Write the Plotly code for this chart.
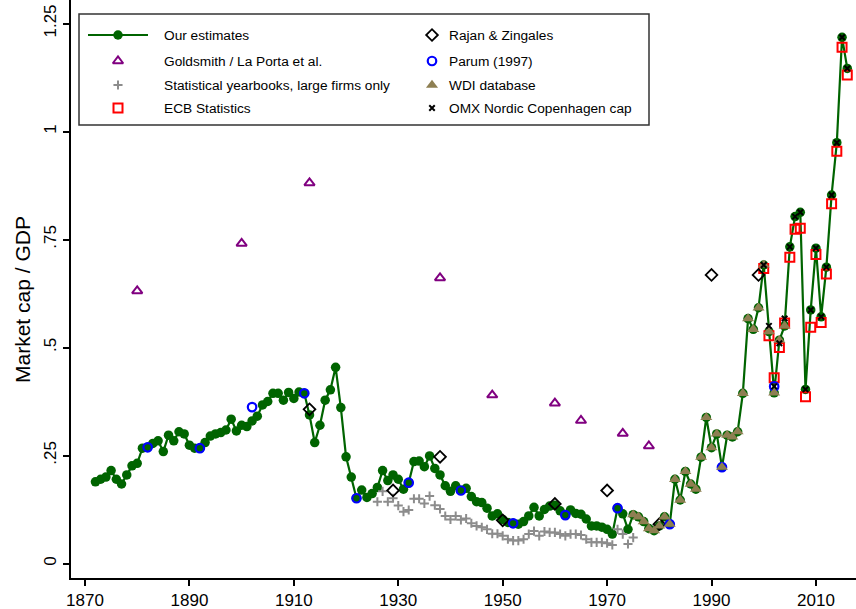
import plotly.graph_objects as go

# ---------------- data ----------------
est_years = list(range(1872, 2017))
est_values = [
    0.189, 0.195, 0.200, 0.215, 0.195, 0.184, 0.205, 0.226, 0.232, 0.267,   # 1872-1881
    0.269, 0.278, 0.284, 0.259, 0.297, 0.284, 0.305, 0.300, 0.274, 0.267,   # 1882-1891
    0.267, 0.280, 0.295, 0.300, 0.303, 0.309, 0.334, 0.307, 0.320, 0.317,   # 1892-1901
    0.330, 0.341, 0.367, 0.375, 0.394, 0.394, 0.378, 0.396, 0.382, 0.397,   # 1902-1911
    0.394, 0.344, 0.280, 0.320, 0.378, 0.402, 0.454, 0.361, 0.247, 0.200,   # 1912-1921
    0.151, 0.170, 0.153, 0.162, 0.176, 0.215, 0.192, 0.205, 0.195, 0.172,   # 1922-1931
    0.187, 0.236, 0.237, 0.224, 0.249, 0.220, 0.205, 0.180, 0.167, 0.180,   # 1932-1941
    0.169, 0.174, 0.155, 0.143, 0.141, 0.128, 0.110, 0.115, 0.102, 0.095,   # 1942-1951
    0.093, 0.091, 0.097, 0.110, 0.130, 0.110, 0.125, 0.133, 0.135, 0.122,   # 1952-1961
    0.112, 0.124, 0.116, 0.114, 0.103, 0.087, 0.087, 0.084, 0.079, 0.068,   # 1962-1971
    0.128, 0.115, 0.079, 0.113, 0.108, 0.097, 0.081, 0.076, 0.087, 0.108,   # 1972-1981
    0.091, 0.195, 0.147, 0.213, 0.184, 0.172, 0.246, 0.338, 0.268, 0.300,   # 1982-1991
    0.223, 0.297, 0.293, 0.305, 0.394, 0.567, 0.542, 0.592, 0.691, 0.537,   # 1992-2001
    0.395, 0.517, 0.550, 0.733, 0.803, 0.813, 0.403, 0.587, 0.730, 0.571,   # 2002-2011
    0.686, 0.853, 0.974, 1.218, 1.146,                                       # 2012-2016
]

goldsmith_years = [1880, 1900, 1913, 1938, 1948, 1960, 1965, 1973, 1978]
goldsmith_values = [0.631, 0.741, 0.881, 0.661, 0.390, 0.371, 0.331, 0.301, 0.272]

statyb_years = list(range(1926, 1976))
statyb_values = [
    0.143, 0.167, 0.143, 0.151, 0.134, 0.120, 0.124, 0.150, 0.150, 0.139,   # 1926-1935
    0.156, 0.135, 0.126, 0.110, 0.102, 0.110, 0.101, 0.104, 0.093, 0.087,   # 1936-1945
    0.084, 0.079, 0.069, 0.069, 0.064, 0.056, 0.053, 0.053, 0.056, 0.068,   # 1946-1955
    0.075, 0.064, 0.074, 0.072, 0.072, 0.068, 0.064, 0.068, 0.068, 0.066,   # 1956-1965
    0.056, 0.049, 0.049, 0.049, 0.047, 0.043, 0.079, 0.068, 0.045, 0.060,   # 1966-1975
]

ecb_years = list(range(2000, 2017))
ecb_values = [0.683, 0.527, 0.430, 0.500, 0.557, 0.709, 0.774, 0.776, 0.386,
              0.547, 0.715, 0.558, 0.670, 0.833, 0.954, 1.195, 1.131]

rz_years = [1913, 1929, 1938, 1950, 1960, 1970, 1980, 1990, 1999]
rz_values = [0.357, 0.169, 0.247, 0.100, 0.138, 0.169, 0.091, 0.668, 0.668]

parum_years = [1882, 1892, 1902, 1912, 1922, 1932, 1942, 1952, 1962, 1972, 1982, 1992, 2002]
parum_values = [0.269, 0.267, 0.362, 0.394, 0.151, 0.187, 0.169, 0.093, 0.112, 0.128,
                0.091, 0.223, 0.410]

wdi_years = list(range(1975, 2005))
wdi_values = [
    0.113, 0.108, 0.097, 0.081, 0.076, 0.087, 0.108, 0.091, 0.195, 0.147,   # 1975-1984
    0.213, 0.184, 0.172, 0.246, 0.338, 0.268, 0.300, 0.223, 0.297, 0.293,   # 1985-1994
    0.305, 0.394, 0.567, 0.542, 0.592, 0.691, 0.537, 0.395, 0.517, 0.550,   # 1995-2004
]

omx_years = list(range(2000, 2017))
omx_values = [0.691, 0.550, 0.410, 0.510, 0.567, 0.733, 0.803, 0.813, 0.403,
              0.587, 0.730, 0.571, 0.686, 0.853, 0.974, 1.218, 1.146]

x_ticks = [1870, 1890, 1910, 1930, 1950, 1970, 1990, 2010]
y_ticks = [0, 0.25, 0.5, 0.75, 1, 1.25]
y_ticklabels = ["0", ".25", ".5", ".75", "1", "1.25"]

# ---------------- styles ----------------
GREEN = "#006400"
PURPLE = "#800080"
GREY = "#8c8c8c"
RED = "#ff0000"
BLUE = "#0000ff"
OLIVE = "#8e7f52"
FONT = "Liberation Sans, Arial, sans-serif"

MK_EST = dict(symbol="circle", size=9.5, color=GREEN)
MK_GOLD = dict(symbol="triangle-up-open", size=9, color=PURPLE, line=dict(color=PURPLE, width=2))
MK_STAT = dict(symbol="cross-thin-open", size=6.5, color=GREY, line=dict(color=GREY, width=2))
MK_ECB = dict(symbol="square-open", size=9, color=RED, line=dict(color=RED, width=2))
MK_RZ = dict(symbol="diamond-open", size=9, color="black", line=dict(color="black", width=1.8))
MK_PARUM = dict(symbol="circle-open", size=8.5, color=BLUE, line=dict(color=BLUE, width=2.2))
MK_WDI = dict(symbol="triangle-up", size=10.5, color=OLIVE)
MK_OMX = dict(symbol="x-thin-open", size=5.5, color="black", line=dict(color="black", width=2))

fig = go.Figure()

fig.add_trace(go.Scatter(x=est_years, y=est_values, mode="lines+markers",
                         line=dict(color=GREEN, width=2.2), marker=MK_EST,
                         name="Our estimates"))
fig.add_trace(go.Scatter(x=goldsmith_years, y=goldsmith_values, mode="markers",
                         marker=MK_GOLD, name="Goldsmith / La Porta et al."))
fig.add_trace(go.Scatter(x=statyb_years, y=statyb_values, mode="markers",
                         marker=MK_STAT, name="Statistical yearbooks, large firms only"))
fig.add_trace(go.Scatter(x=ecb_years, y=ecb_values, mode="markers",
                         marker=MK_ECB, name="ECB Statistics"))
fig.add_trace(go.Scatter(x=rz_years, y=rz_values, mode="markers",
                         marker=MK_RZ, name="Rajan & Zingales"))
fig.add_trace(go.Scatter(x=parum_years, y=parum_values, mode="markers",
                         marker=MK_PARUM, name="Parum (1997)"))
fig.add_trace(go.Scatter(x=wdi_years, y=wdi_values, mode="markers",
                         marker=MK_WDI, name="WDI database"))
fig.add_trace(go.Scatter(x=omx_years, y=omx_values, mode="markers",
                         marker=MK_OMX, name="OMX Nordic Copenhagen cap"))

# ---------------- manual legend (pixel-coordinate overlay axes) ----------------
L, R, T, B = 71, 856, 0, 578
legend_rows_y = [35, 61, 85, 108]
col1_marker_x, col1_text_x = 118, 162
col2_marker_x, col2_text_x = 432, 447

fig.add_trace(go.Scatter(x=[88, 148], y=[legend_rows_y[0]] * 2, mode="lines",
                         line=dict(color=GREEN, width=2.2), xaxis="x2", yaxis="y2",
                         showlegend=False, hoverinfo="skip"))
samples = [
    (col1_marker_x, legend_rows_y[0], MK_EST),
    (col1_marker_x, legend_rows_y[1], MK_GOLD),
    (col1_marker_x, legend_rows_y[2], MK_STAT),
    (col1_marker_x, legend_rows_y[3], MK_ECB),
    (col2_marker_x, legend_rows_y[0], MK_RZ),
    (col2_marker_x, legend_rows_y[1], MK_PARUM),
    (col2_marker_x, legend_rows_y[2], MK_WDI),
    (col2_marker_x, legend_rows_y[3], MK_OMX),
]
for sx, sy, mk in samples:
    fig.add_trace(go.Scatter(x=[sx], y=[sy], mode="markers", marker=mk,
                             xaxis="x2", yaxis="y2", showlegend=False, hoverinfo="skip"))

legend_texts = [
    (col1_text_x, legend_rows_y[0], "Our estimates"),
    (col1_text_x, legend_rows_y[1], "Goldsmith / La Porta et al."),
    (col1_text_x, legend_rows_y[2], "Statistical yearbooks, large firms only"),
    (col1_text_x, legend_rows_y[3], "ECB Statistics"),
    (col2_text_x, legend_rows_y[0], "Rajan & Zingales"),
    (col2_text_x, legend_rows_y[1], "Parum (1997)"),
    (col2_text_x, legend_rows_y[2], "WDI database"),
    (col2_text_x, legend_rows_y[3], "OMX Nordic Copenhagen cap"),
]
annotations = []
for tx, ty, txt in legend_texts:
    annotations.append(dict(x=tx, y=ty, xref="x2", yref="y2", text=txt, showarrow=False,
                            xanchor="left", yanchor="middle",
                            font=dict(family=FONT, size=13.7, color="black")))

annotations.append(dict(x=(22 - L) / (R - L), y=(B - 300) / (B - T), xref="paper", yref="paper",
                        text="Market cap / GDP", showarrow=False, textangle=-90,
                        xanchor="center", yanchor="middle",
                        font=dict(family=FONT, size=21, color="black")))

shapes = [dict(type="rect", xref="x2", yref="y2", x0=79, x1=649, y0=14, y1=125,
               line=dict(color="#333333", width=1.5), fillcolor="rgba(0,0,0,0)", layer="above")]

px_per_year = 5.221
x0_year = 1870 - (85 - L) / px_per_year
x1_year = 1870 + (R - 85) / px_per_year
px_per_unit = 432.0
y0_val = -(B - 563.5) / px_per_unit
y1_val = 563.5 / px_per_unit

fig.update_layout(
    width=856, height=609,
    margin=dict(l=L, r=856 - R, t=T, b=609 - B, pad=0),
    paper_bgcolor="white", plot_bgcolor="white",
    showlegend=False,
    font=dict(family=FONT, color="black"),
    annotations=annotations,
    shapes=shapes,
    xaxis=dict(range=[x0_year, x1_year], tickvals=x_ticks, ticktext=[str(v) for v in x_ticks],
               showgrid=False, zeroline=False, showline=True, linecolor="black", linewidth=2,
               ticks="outside", ticklen=6, tickwidth=1.5, tickcolor="black",
               tickfont=dict(family=FONT, size=17, color="black")),
    yaxis=dict(range=[y0_val, y1_val], tickvals=y_ticks, ticktext=y_ticklabels,
               showgrid=False, zeroline=False, showline=True, linecolor="black", linewidth=2,
               ticks="outside", ticklen=6, tickwidth=1.5, tickcolor="black", tickangle=-90,
               tickfont=dict(family=FONT, size=17, color="black")),
    xaxis2=dict(range=[L, R], overlaying="x", anchor="y2", visible=False, fixedrange=True),
    yaxis2=dict(range=[B, T], overlaying="y", anchor="x2", visible=False, fixedrange=True),
)

fig.write_html("out.html")
